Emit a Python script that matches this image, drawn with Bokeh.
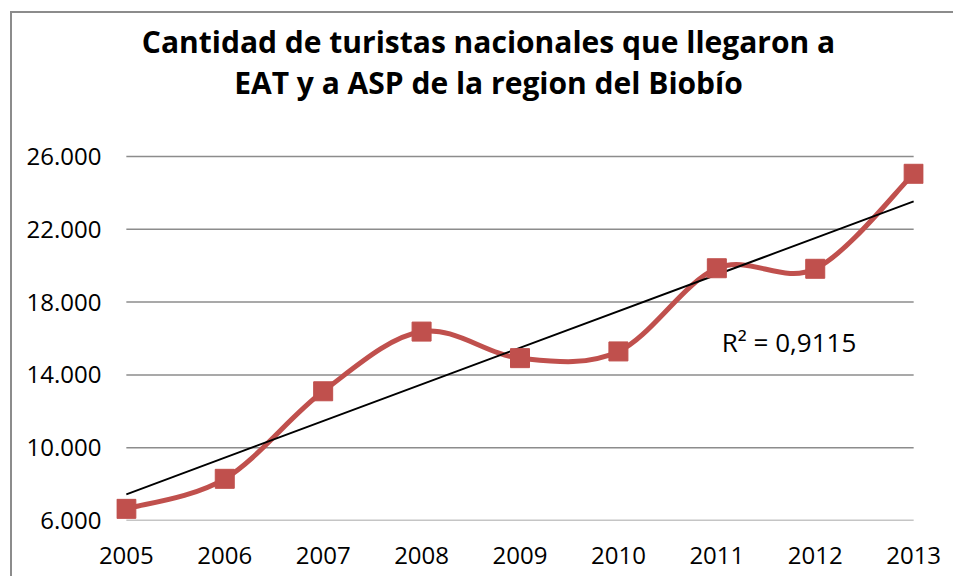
import numpy as np
from bokeh.plotting import figure
from bokeh.models import FixedTicker, Label, Range1d, ColumnDataSource
from bokeh.embed import file_html
from bokeh.resources import INLINE

# ---- data ----
years = [2005, 2006, 2007, 2008, 2009, 2010, 2011, 2012, 2013]
turistas = [6640, 8290, 13100, 16380, 14920, 15290, 19860, 19830, 25050]
y_ticks = [6000, 10000, 14000, 18000, 22000, 26000]
y_tick_labels = ["6.000", "10.000", "14.000", "18.000", "22.000", "26.000"]
x_tick_labels = [str(v) for v in years]
title_lines = ["Cantidad de turistas nacionales que llegaron a",
               "EAT y a ASP de la region del Biobío"]
r2_text = "R\u00b2 = 0,9115"
r2_pos = (2011.05, 15830)

RED = "#C0504D"
GRID = "#8c8c8c"
FONT = "Open Sans"
XPAD = 0.1          # room so the end markers are not cut

# ---- layout (pixels) ----
W, H = 943, 565
BORDER_L, BORDER_R, BORDER_B = 104, 32, 58
FRAME_H = H - BORDER_B          # plot frame reaches the top so the title fits inside
GRID_H = 364                    # pixel height of the 6.000 .. 26.000 band
y_end = y_ticks[0] + (y_ticks[-1] - y_ticks[0]) * FRAME_H / GRID_H

x = np.array(years, dtype=float)
y = np.array(turistas, dtype=float)

# smoothed line (cardinal spline as bezier segments)
xp = np.concatenate([[x[0]], x, [x[-1]]])
yp = np.concatenate([[y[0]], y, [y[-1]]])
n = len(x)
seg = dict(x0=[], y0=[], x1=[], y1=[], cx0=[], cy0=[], cx1=[], cy1=[])
for i in range(n - 1):
    j = i + 1
    seg["x0"].append(xp[j]); seg["y0"].append(yp[j])
    seg["x1"].append(xp[j + 1]); seg["y1"].append(yp[j + 1])
    seg["cx0"].append(xp[j] + (xp[j + 1] - xp[j - 1]) / 6)
    seg["cy0"].append(yp[j] + (yp[j + 1] - yp[j - 1]) / 6)
    seg["cx1"].append(xp[j + 1] - (xp[j + 2] - xp[j]) / 6)
    seg["cy1"].append(yp[j + 1] - (yp[j + 2] - yp[j]) / 6)

# linear trend
slope, intercept = np.polyfit(x, y, 1)
tx = [x[0], x[-1]]
ty = [slope * x[0] + intercept, slope * x[-1] + intercept]

p = figure(width=W, height=H, output_backend="svg", toolbar_location=None,
           title=None,
           x_range=Range1d(years[0] - XPAD, years[-1] + XPAD),
           y_range=Range1d(y_ticks[0], y_end),
           min_border_left=BORDER_L, min_border_right=BORDER_R, min_border_top=0,
           min_border_bottom=BORDER_B)
p.margin = (11, 0, 0, 10)
p.styles = {"border-left": "2px solid #8c8c8c", "border-top": "2px solid #8c8c8c"}
p.outline_line_color = None
p.background_fill_color = "white"
p.border_fill_color = "white"

p.xgrid.visible = False
p.ygrid.visible = False

for ax in (p.xaxis[0], p.yaxis[0]):
    ax.axis_line_color = None
    ax.major_tick_line_color = None
    ax.minor_tick_line_color = None
    ax.major_tick_out = 0
    ax.major_tick_in = 0
    ax.major_label_text_font = FONT
    ax.major_label_text_font_size = "24px"
    ax.major_label_text_color = "#000000"

p.yaxis.ticker = FixedTicker(ticks=y_ticks)
p.yaxis.major_label_overrides = {t: l for t, l in zip(y_ticks, y_tick_labels)}
p.yaxis.major_label_standoff = 15
p.xaxis.ticker = FixedTicker(ticks=years)
p.xaxis.major_label_overrides = {t: l for t, l in zip(years, x_tick_labels)}
p.xaxis.major_label_standoff = 26

# horizontal gridlines spanning the category extent
p.segment(x0=[years[0]] * len(y_ticks), x1=[years[-1]] * len(y_ticks),
          y0=y_ticks, y1=y_ticks, line_color=GRID, line_width=1.5)

p.bezier(x0="x0", y0="y0", x1="x1", y1="y1", cx0="cx0", cy0="cy0",
         cx1="cx1", cy1="cy1", source=ColumnDataSource(seg),
         line_color=RED, line_width=5)
p.line(tx, ty, line_color="black", line_width=1.9)
p.scatter(years, turistas, marker="square", size=19, fill_color=RED, line_color=RED)

p.add_layout(Label(x=r2_pos[0], y=r2_pos[1], text=r2_text, text_font=FONT,
                   text_font_size="26px", text_color="#000000",
                   text_baseline="alphabetic"))

# title: two centred lines (screen offsets from the frame's bottom-left corner)
for line, dy in zip(title_lines, (479, 438)):
    p.add_layout(Label(x=372, y=dy, x_units="screen", y_units="screen",
                       text=line, text_align="center", text_baseline="alphabetic",
                       text_font=FONT, text_font_size="30px",
                       text_font_style="bold", text_color="#000000"))

open("out.html", "w").write(file_html(p, INLINE))
